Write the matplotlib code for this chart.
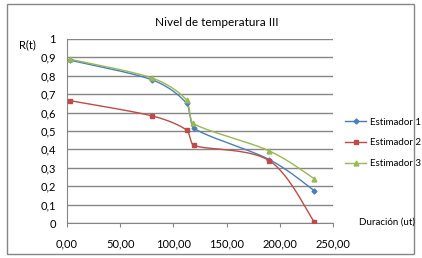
import numpy as np
import matplotlib
matplotlib.use('Agg')
import matplotlib.pyplot as plt
from matplotlib.patches import Rectangle

# data
x1 = [2.8, 80, 112.5, 119, 190, 232.5]
y1 = [0.885, 0.778, 0.650, 0.516, 0.345, 0.175]
x2 = [2.8, 80, 112.5, 119, 190, 232.5]
y2 = [0.665, 0.582, 0.505, 0.422, 0.339, 0.005]
x3 = [2.8, 80, 112.5, 118, 190, 232.5]
y3 = [0.890, 0.788, 0.668, 0.543, 0.392, 0.240]
names = ['Estimador 1', 'Estimador 2', 'Estimador 3']
colors = ['#4A7EBB', '#BE4B48', '#98B954']
markers = ['D', 's', '^']
msizes = [2.5, 3.5, 3.5]


def smooth(xs, ys, n=40):
    # excel-like smoothed line, handles kept inside each x-step
    p = np.column_stack([xs, ys])
    out = [p[0]]
    for i in range(len(p) - 1):
        p0 = p[i - 1] if i > 0 else p[i]
        p1, p2 = p[i], p[i + 1]
        p3 = p[i + 2] if i + 2 < len(p) else p[i + 1]
        dx = p2[0] - p1[0]
        d1 = (p2 - p0) / 6
        d2 = (p3 - p1) / 6
        if d1[0] > dx * 0.45:
            d1 = d1 * (dx * 0.45 / d1[0])
        if d2[0] > dx * 0.45:
            d2 = d2 * (dx * 0.45 / d2[0])
        c1 = p1 + d1
        c2 = p2 - d2
        t = np.linspace(0, 1, n)[1:, None]
        seg = ((1 - t) ** 3 * p1 + 3 * (1 - t) ** 2 * t * c1
               + 3 * (1 - t) * t ** 2 * c2 + t ** 3 * p2)
        out.extend(seg)
    out = np.array(out)
    return out[:, 0], out[:, 1]


plt.rcParams['font.family'] = ['Lato', 'DejaVu Sans']
fig = plt.figure(figsize=(4.22, 2.58), dpi=100)
fig.patches.append(Rectangle((7 / 422, 4 / 258), 407 / 422, 250 / 258,
                             transform=fig.transFigure, fill=False,
                             edgecolor='#868686', lw=1))
ax = fig.add_axes([67 / 422, 35 / 258, 266 / 422, 184 / 258])

for xs, ys, nm, c, m, ms in zip([x1, x2, x3], [y1, y2, y3], names, colors, markers, msizes):
    sx, sy = smooth(xs, ys)
    ax.plot(sx, sy, color=c, lw=1.0, zorder=3)
    ax.plot(xs, ys, ls='none', marker=m, ms=ms, color=c, zorder=4)
    ax.plot([], [], color=c, lw=1.0, marker=m, ms=ms, label=nm)

ax.set_xlim(0, 250)
ax.set_ylim(0, 1)
ax.set_xticks(np.arange(0, 251, 50))
ax.set_yticks(np.arange(0, 1.01, 0.1))
ax.set_xticklabels([f'{v:.2f}'.replace('.', ',') for v in np.arange(0, 251, 50)])
ax.set_yticklabels(['0'] + [f'{v:.1f}'.replace('.', ',') for v in np.arange(0.1, 0.95, 0.1)] + ['1'])
ax.grid(axis='y', color='#868686', lw=1.0)
ax.set_axisbelow(True)
for s in ['top', 'right']:
    ax.spines[s].set_visible(False)
ax.spines['left'].set_color('#868686')
ax.spines['bottom'].set_color('#868686')
ax.tick_params(axis='y', length=0, pad=8, labelsize=8)
ax.tick_params(axis='x', length=3, direction='out', color='#868686', pad=8, labelsize=8)

fig.text(217 / 422, 1 - 22 / 258, 'Nivel de temperatura III', ha='center', va='center', fontsize=8.5)
fig.text(27 / 422, 1 - 45 / 258, 'R(t)', ha='center', va='center', fontsize=8)
fig.text(387 / 422, 1 - 222 / 258, 'Duración (ut)', ha='center', va='center', fontsize=7)

ax.legend(loc='center left', bbox_to_anchor=(340 / 422, 1 - 143 / 258),
          bbox_transform=fig.transFigure, frameon=False, fontsize=7,
          handlelength=2.2, handletextpad=0.4, labelspacing=1.2, borderpad=0)

fig.savefig('out.png', dpi=100)
